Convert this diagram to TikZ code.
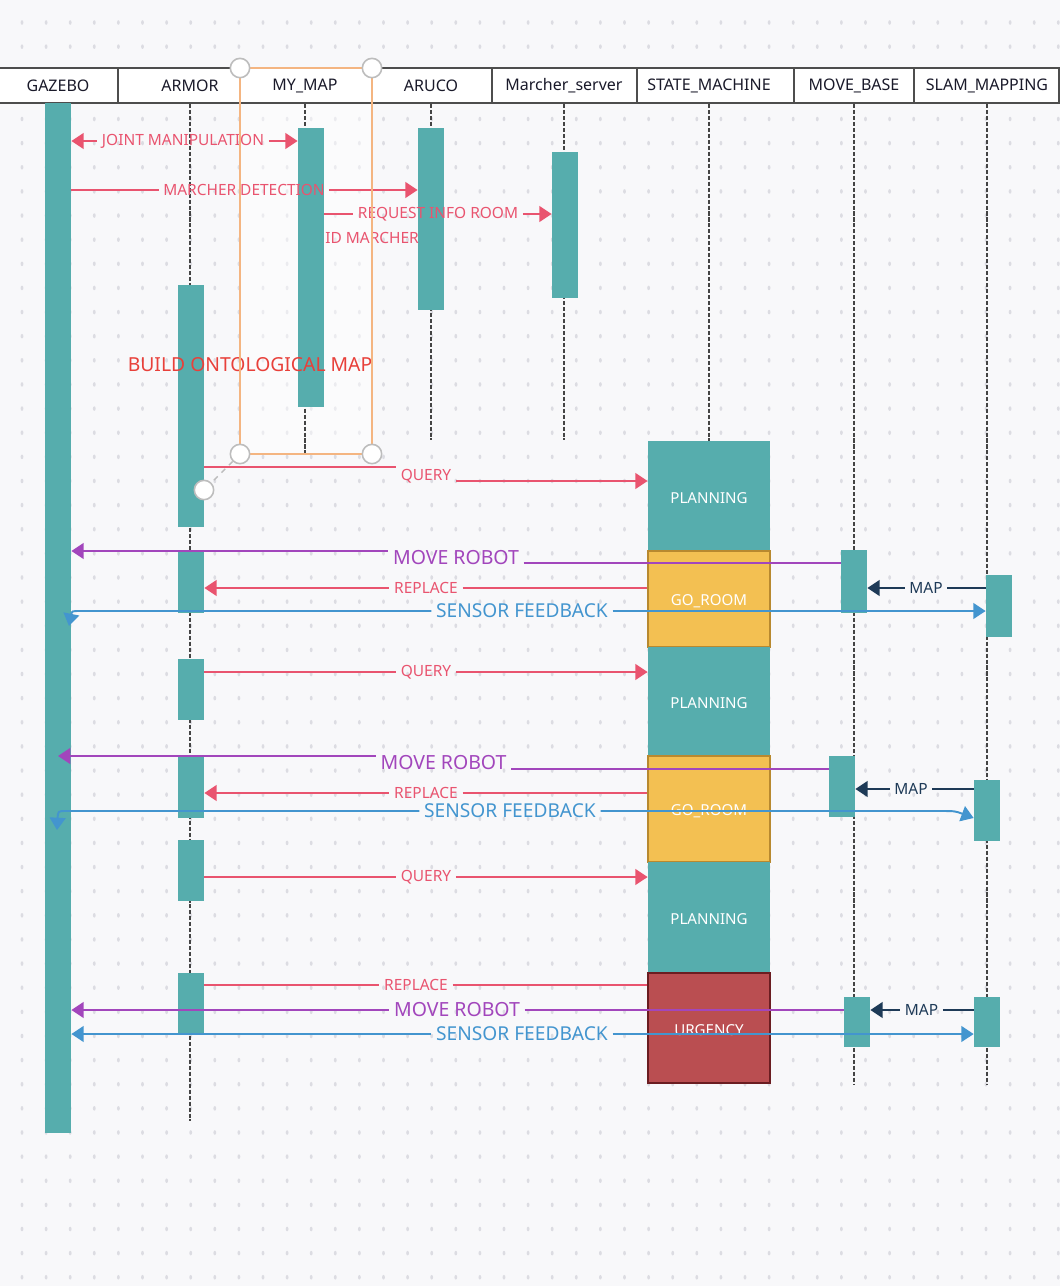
\documentclass[tikz,border=0pt]{standalone}
\usepackage{fontspec}
\setmainfont{Noto Sans}
\usepackage{tikz}
\usetikzlibrary{arrows.meta,positioning,fit}
\definecolor{bgpaper}{HTML}{F8F8FA}
\definecolor{griddot}{HTML}{DCDCE2}
\definecolor{barteal}{HTML}{56ADAD}
\definecolor{msgpink}{HTML}{E9546F}
\definecolor{msgpurple}{HTML}{A246BC}
\definecolor{msgblue}{HTML}{4395CF}
\definecolor{msgnavy}{HTML}{1E3A57}
\definecolor{roomyellow}{HTML}{F3C052}
\definecolor{roomedge}{HTML}{B8892F}
\definecolor{urgred}{HTML}{BA4E51}
\definecolor{urgedge}{HTML}{6B1D21}
\definecolor{selorange}{HTML}{F4B581}
\definecolor{buildred}{HTML}{E8403A}
\definecolor{headgray}{HTML}{4D4D4D}
\definecolor{lifegray}{HTML}{444444}
\definecolor{headtext}{HTML}{1A1A2A}
\definecolor{handlegray}{HTML}{BDBDBD}

\begin{document}
\begin{tikzpicture}[
  x=0.02cm, y=-0.02cm,
  >={Triangle[length=7pt,width=9pt]},
  hdrbox/.style={draw=headgray, line width=1.1pt, fill=white, inner sep=0pt},
  hdrtxt/.style={font=\fontsize{9.1}{10}\selectfont, text=headtext, inner sep=0pt},
  lifeln/.style={draw=lifegray, line width=0.85pt, dash pattern=on 2.3pt off 1.1pt},
  actbar/.style={fill=barteal, inner sep=0pt},
  statetxt/.style={inner sep=0pt, text=white, font=\fontsize{8.6}{10}\selectfont,
                   yshift=-1pt},
  statebox/.style={inner sep=0pt},
  planbox/.style={statebox, fill=barteal},
  roombox/.style={statebox, fill=roomyellow, draw=roomedge, line width=1pt},
  urgbox/.style={statebox, fill=urgred, draw=urgedge, line width=1.1pt},
  msgline/.style={line width=1.1pt},
  pinkline/.style={msgline, draw=msgpink},
  purpleline/.style={msgline, draw=msgpurple},
  blueline/.style={msgline, draw=msgblue},
  navyline/.style={msgline, draw=msgnavy},
  msglbl/.style={inner xsep=2.5pt, inner ysep=0pt, font=\fontsize{8.8}{10}\selectfont},
  pinklbl/.style={msglbl, text=msgpink},
  navylbl/.style={msglbl, text=msgnavy},
  purplelbl/.style={msglbl, text=msgpurple, font=\fontsize{11.1}{13}\selectfont},
  bluelbl/.style={msglbl, text=msgblue, font=\fontsize{10.9}{13}\selectfont},
  handle/.style={circle, draw=handlegray, line width=0.9pt, fill=white,
                 minimum size=11pt, inner sep=0pt}
]

% Canvas with dot grid
\fill[bgpaper] (0,0) rectangle (1060,1286);
\useasboundingbox (0,0) rectangle (1060,1286);
\foreach \i in {0,...,43} {
  \foreach \j in {0,...,52} {
    \fill[griddot] (22+24.1*\i, 22.5+24.13*\j) ellipse (0.8pt and 1.3pt);
  }
}
\fill[white, opacity=0.45] (240,68) rectangle (372,454);

% Header boxes
\node[hdrbox, fit={(-2,68) (118,103)}] (hGZ) {};
\node[hdrbox, fit={(118,68) (240,103)}] (hARM) {};
\node[hdrbox, fit={(240,68) (372,103)}] (hMAP) {};
\node[hdrbox, fit={(372,68) (492,103)}] (hARU) {};
\node[hdrbox, fit={(492,68) (637,103)}] (hMS) {};
\node[hdrbox, fit={(637,68) (794,103)}] (hSM) {};
\node[hdrbox, fit={(794,68) (914,103)}] (hMB) {};
\node[hdrbox, fit={(914,68) (1059,103)}] (hSL) {};

\node[hdrtxt] (tGZ) at (58,86) {GAZEBO};
\node[hdrtxt] (tARM) at (190,86) {ARMOR};
\node[hdrtxt] (tMAP) at (305,86) {MY\_MAP};
\node[hdrtxt] (tARU) at (431,86) {ARUCO};
\node[hdrtxt] (tMS) at (564,86) {Marcher\_server};
\node[hdrtxt] (tSM) at (709,86) {STATE\_MACHINE};
\node[hdrtxt] (tMB) at (854,86) {MOVE\_BASE};
\node[hdrtxt] (tSL) at (987,86) {SLAM\_MAPPING};

% Lifelines
\draw[lifeln] (hARM.south -| tARM) -- (tARM |- 0,1121);
\draw[lifeln] (hMAP.south -| tMAP) -- (tMAP |- 0,455);
\draw[lifeln] (hARU.south -| tARU) -- (tARU |- 0,440);
\draw[lifeln] (hMS.south -| tMS) -- (tMS |- 0,440);
\draw[lifeln] (hSM.south -| tSM) -- (tSM |- 0,441);
\draw[lifeln] (hMB.south -| tMB) -- (tMB |- 0,1084);
\draw[lifeln] (hSL.south -| tSL) -- (tSL |- 0,1084);

% Activation bars
\node[actbar, fit={(45,103) (71,1133)}] (gz) {};
\node[actbar, fit={(298,128) (324,407)}] (mm) {};
\node[actbar, fit={(418,128) (444,310)}] (aru) {};
\node[actbar, fit={(552,152) (578,298)}] (ms) {};
\node[actbar, fit={(178,285) (204,527)}] (ar1) {};
\node[actbar, fit={(178,552) (204,613)}] (ar2) {};
\node[actbar, fit={(178,659) (204,720)}] (ar3) {};
\node[actbar, fit={(178,757) (204,818)}] (ar4) {};
\node[actbar, fit={(178,840) (204,901)}] (ar5) {};
\node[actbar, fit={(178,973) (204,1034)}] (ar6) {};
\node[actbar, fit={(841,550) (867,613)}] (mb1) {};
\node[actbar, fit={(829,756) (855,817)}] (mb2) {};
\node[actbar, fit={(844,997) (870,1047)}] (mb3) {};
\node[actbar, fit={(986,575) (1012,637)}] (sl1) {};
\node[actbar, fit={(974,780) (1000,841)}] (sl2) {};
\node[actbar, fit={(974,997) (1000,1047)}] (sl3) {};

% State machine states
\node[planbox, fit={(648,441) (770,551)}, label={[statetxt]center:PLANNING}] (sm1) {};
\node[roombox, fit={(648,551) (770,647)}, label={[statetxt]center:GO\_ROOM}] (sm2) {};
\node[planbox, fit={(648,647) (770,756)}, label={[statetxt]center:PLANNING}] (sm3) {};
\node[roombox, fit={(648,756) (770,862)}, label={[statetxt]center:GO\_ROOM}] (sm4) {};
\node[planbox, fit={(648,862) (770,973)}, label={[statetxt]center:PLANNING}] (sm5) {};
\node[urgbox, fit={(648,973) (770,1083)}, label={[statetxt]center:URGENCY}] (sm6) {};

% Setup messages
\node[pinklbl] (jm) at (183,141) {JOINT MANIPULATION};
\draw[pinkline, <-] (gz.east |- jm) -- (jm.west);
\draw[pinkline, ->] (jm.east) -- (mm.west |- jm);

\node[pinklbl] (md) at (244,190) {MARCHER DETECTION};
\draw[pinkline] (gz.east |- md) -- (md.west);
\draw[pinkline, ->] (md.east) -- (aru.west |- md);

\node[pinklbl] (rir) at (438,214) {REQUEST INFO ROOM};
\draw[pinkline] (mm.east |- rir) -- (rir.west);
\draw[pinkline, ->] (rir.east) -- (ms.west |- rir);

\node[pinklbl, anchor=west, inner xsep=0pt] (idm) at (325,238) {ID MARCHER};

\node[font=\fontsize{11}{13}\selectfont, text=buildred, inner sep=0pt] (bom)
  at (250,365) {BUILD ONTOLOGICAL MAP};

% Cycle 1
\node[pinklbl] (q1) at (426,476) {QUERY};
\draw[pinkline] (ar1.east |- 0,467) -- (q1.west |- 0,467);
\draw[pinkline, ->] (q1.east |- 0,481) -- (sm1.west |- 0,481);

\node[purplelbl] (mr1) at (456,557.5) {MOVE ROBOT};
\draw[purpleline, <-] (gz.east |- 0,551) -- (mr1.west |- 0,551);
\draw[purpleline] (mr1.east |- 0,563) -- (mb1.west |- 0,563);

\node[pinklbl] (rp1) at (426,588) {REPLACE};
\draw[pinkline, <-] (ar2.east |- rp1) -- (rp1.west);
\draw[pinkline] (rp1.east) -- (sm2.west |- rp1);

\node[navylbl] (mp1) at (926,588) {MAP};
\draw[navyline, <-] (mb1.east |- mp1) -- (mp1.west);
\draw[navyline] (mp1.east) -- (sl1.west |- mp1);

\node[bluelbl] (sf1) at (522,611) {SENSOR FEEDBACK};
\coordinate (sf1tip) at (69,626);
\draw[blueline, ->] (sf1.west) -- (80,611) .. controls (72,611) .. (sf1tip);
\draw[blueline, ->] (sf1.east) -- (sl1.west |- sf1);

% Cycle 2
\node[pinklbl] (q2) at (426,672) {QUERY};
\draw[pinkline] (ar3.east |- q2) -- (q2.west);
\draw[pinkline, ->] (q2.east) -- (sm3.west |- q2);

\node[purplelbl] (mr2) at (443.5,763) {MOVE ROBOT};
\draw[purpleline, <-] (gz.center |- 0,756) -- (mr2.west |- 0,756);
\draw[purpleline] (mr2.east |- 0,769) -- (mb2.west |- 0,769);

\node[pinklbl] (rp2) at (426,793) {REPLACE};
\draw[pinkline, <-] (ar4.east |- rp2) -- (rp2.west);
\draw[pinkline] (rp2.east) -- (sm4.west |- rp2);

\node[navylbl] (mp2) at (911,789) {MAP};
\draw[navyline, <-] (mb2.east |- mp2) -- (mp2.west);
\draw[navyline] (mp2.east) -- (sl2.west |- mp2);

\node[bluelbl] (sf2) at (510,811) {SENSOR FEEDBACK};
\coordinate (sf2tip) at (57,830);
\draw[blueline, ->] (sf2.west) -- (66,811) .. controls (58,811) .. (sf2tip);
\draw[blueline, ->] (sf2.east) -- (940,811) .. controls (955,811) .. (sl2.west |- 0,818);

% Cycle 3
\node[pinklbl] (q3) at (426,877) {QUERY};
\draw[pinkline] (ar5.east |- q3) -- (q3.west);
\draw[pinkline, ->] (q3.east) -- (sm5.west |- q3);

\node[pinklbl] (rp3) at (416,985) {REPLACE};
\draw[pinkline] (ar6.east |- rp3) -- (rp3.west);
\draw[pinkline] (rp3.east) -- (sm6.west |- rp3);

\node[purplelbl] (mr3) at (457,1010) {MOVE ROBOT};
\draw[purpleline, <-] (gz.east |- mr3) -- (mr3.west);
\draw[purpleline] (mr3.east) -- (mb3.west |- mr3);

\node[navylbl] (mp3) at (921.5,1010) {MAP};
\draw[navyline, <-] (mb3.east |- mp3) -- (mp3.west);
\draw[navyline] (mp3.east) -- (sl3.west |- mp3);

\node[bluelbl] (sf3) at (522,1034) {SENSOR FEEDBACK};
\draw[blueline, <-] (gz.east |- sf3) -- (sf3.west);
\draw[blueline, ->] (sf3.east) -- (sl3.west |- sf3);

% Selection frame
\draw[selorange, line width=1.1pt] (240,68) rectangle (372,454);
\node[handle] (hd1) at (240,68) {};
\node[handle] (hd2) at (372,68) {};
\node[handle] (hd3) at (240,454) {};
\node[handle] (hd4) at (372,454) {};
\node[handle] (hd5) at (204,490) {};
\draw[handlegray, dashed, line width=0.8pt] (hd3) -- (hd5);

\end{tikzpicture}
\end{document}
